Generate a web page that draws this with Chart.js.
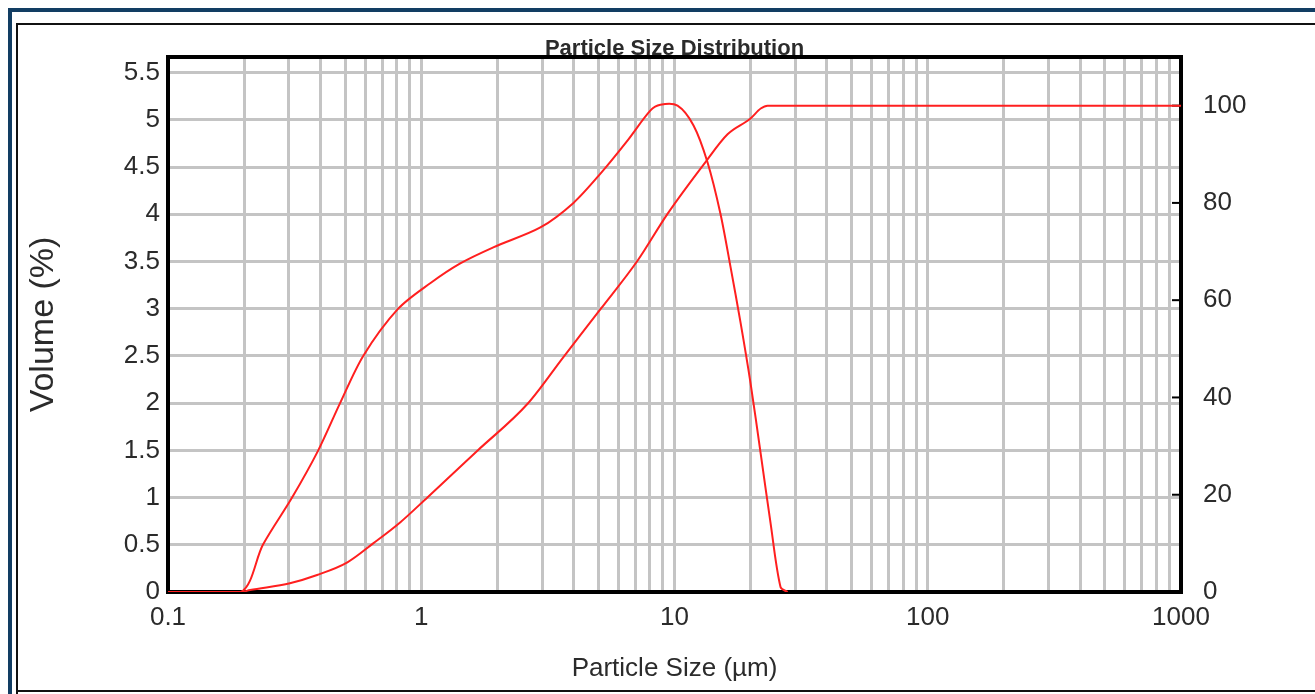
<!DOCTYPE html>
<html>
<head>
<meta charset="utf-8">
<script src="https://cdn.jsdelivr.net/npm/chart.js@4.4.1/dist/chart.umd.min.js"></script>
<style>
  html, body { margin: 0; padding: 0; background: #fff; }
  #wrap { width: 1315px; height: 694px; }
</style>
</head>
<body>
<div id="wrap"><canvas id="psd" width="1315" height="694"></canvas></div>
<script>
// particle size (µm) vs volume density (%) - left axis
const densitySize = [0.1, 0.194, 0.237, 0.309, 0.392, 0.478, 0.59, 0.811, 1.085, 1.426, 1.926, 2.954, 3.99, 5.1, 6.52, 8.04, 8.8, 10.28, 11.89, 13.5, 15.2, 16.65, 18.24, 19.97, 21.88, 23.95, 26.24, 27.97];
const densityVol  = [0, 0, 0.5, 1.0, 1.5, 2.0, 2.5, 3.0, 3.27, 3.48, 3.65, 3.86, 4.12, 4.43, 4.78, 5.1, 5.16, 5.15, 4.94, 4.55, 4.0, 3.44, 2.85, 2.21, 1.47, 0.73, 0.05, 0];

// cumulative undersize (%) - right axis
const cumSize = [0.1, 0.194, 0.211, 0.303, 0.388, 0.511, 0.646, 0.825, 1.06, 1.67, 2.63, 3.63, 5.11, 7.12, 9.37, 13.3, 16.2, 19.9, 21.9, 23.3, 1000];
const cumPct  = [0, 0, 0.4, 1.8, 3.5, 6.1, 10.0, 14.3, 19.5, 29.1, 38.7, 48.2, 58.2, 68.0, 77.7, 88.5, 94.1, 97.3, 99.4, 100, 100];

// axis ticks
const xGridValues = [];
[0.1, 1, 10, 100].forEach(dec => {
    for (let k = 1; k < 10; k++) xGridValues.push(+(dec * k).toPrecision(3));
});
xGridValues.push(1000);
const xLabelValues = [0.1, 1, 10, 100, 1000];
const volTicks = [0, 0.5, 1, 1.5, 2, 2.5, 3, 3.5, 4, 4.5, 5, 5.5];
const pctTicks = [0, 20, 40, 60, 80, 100];

const chartTitle = 'Particle Size Distribution';
const FONT = "'Liberation Sans', Arial, sans-serif";
const TEXT = '#2b2b2b';
const RED = '#ff1f1f';
const GRID = '#c4c4c4';

const frameLines = {
    id: 'frameLines',
    beforeDatasetsDraw: (chart) => {
        const { ctx, chartArea: a } = chart;
        ctx.save();
        // title sits right on the plot frame, centred over the plot area
        ctx.fillStyle = TEXT;
        ctx.font = `bold 22px ${FONT}`;
        ctx.textAlign = 'center';
        ctx.textBaseline = 'alphabetic';
        ctx.fillText(chartTitle, (a.left + a.right) / 2, a.top - 2);

        ctx.strokeStyle = '#000';
        ctx.lineWidth = 4;
        ctx.strokeRect(a.left, a.top, a.right - a.left, a.bottom - a.top);
        // short inward ticks on the right axis
        const y2 = chart.scales.y2;
        ctx.lineWidth = 2;
        pctTicks.forEach(v => {
            const y = y2.getPixelForValue(v);
            ctx.beginPath();
            ctx.moveTo(a.right - 9, y);
            ctx.lineTo(a.right, y);
            ctx.stroke();
        });
        ctx.restore();
    },
    afterDraw: (chart) => {
        const ctx = chart.ctx;
        ctx.save();
        // outer navy border
        ctx.strokeStyle = '#123d63';
        ctx.lineWidth = 4;
        ctx.beginPath();
        ctx.moveTo(1315, 10); ctx.lineTo(10, 10); ctx.lineTo(10, 694);
        ctx.stroke();
        // inner black frame
        ctx.strokeStyle = '#111';
        ctx.lineWidth = 2;
        ctx.beginPath();
        ctx.moveTo(1315, 24); ctx.lineTo(17, 24); ctx.lineTo(17, 694);
        ctx.moveTo(17, 691); ctx.lineTo(1315, 691);
        ctx.stroke();
        ctx.restore();
    }
};

const isLabelled = (v) => xLabelValues.some(l => Math.abs(l - v) < 1e-9);

new Chart(document.getElementById('psd'), {
    type: 'line',
    plugins: [frameLines],
    data: {
        datasets: [
            {
                label: 'Volume',
                data: densitySize.map((x, i) => ({ x, y: densityVol[i] })),
                yAxisID: 'y',
                borderColor: RED,
                borderWidth: 2,
                pointRadius: 0,
                tension: 0.3,
                fill: false
            },
            {
                label: 'Cumulative',
                data: cumSize.map((x, i) => ({ x, y: cumPct[i] })),
                yAxisID: 'y2',
                borderColor: RED,
                borderWidth: 2,
                pointRadius: 0,
                cubicInterpolationMode: 'monotone',
                fill: false
            }
        ]
    },
    options: {
        responsive: false,
        animation: false,
        layout: { padding: { top: 57 } },
        plugins: {
            legend: { display: false },
            tooltip: { enabled: false },
            title: { display: false }
        },
        scales: {
            x: {
                type: 'logarithmic',
                min: 0.1,
                max: 1000,
                afterBuildTicks: (scale) => { scale.ticks = xGridValues.map(v => ({ value: v })); },
                afterFit: (scale) => { scale.height = 102; },
                grid: { color: GRID, lineWidth: 3, drawTicks: false },
                border: { display: false },
                ticks: {
                    autoSkip: false,
                    maxRotation: 0,
                    padding: 10,
                    color: TEXT,
                    font: { family: FONT, size: 26 },
                    callback: (v) => isLabelled(v) ? String(v) : ''
                },
                title: {
                    display: true,
                    text: 'Particle Size (µm)',
                    color: TEXT,
                    font: { family: FONT, size: 26 },
                    padding: { top: 0, bottom: 10 }
                }
            },
            y: {
                position: 'left',
                min: 0,
                max: 5.665,
                afterBuildTicks: (scale) => { scale.ticks = volTicks.map(v => ({ value: v })); },
                afterFit: (scale) => { scale.width = 168; },
                grid: { color: GRID, lineWidth: 3, drawTicks: false },
                border: { display: false },
                ticks: {
                    padding: 8,
                    color: TEXT,
                    font: { family: FONT, size: 26 },
                    callback: (v) => String(v)
                },
                title: {
                    display: true,
                    text: 'Volume (%)',
                    color: TEXT,
                    font: { family: FONT, size: 34 },
                    padding: { top: 23, bottom: 0 }
                }
            },
            y2: {
                position: 'right',
                min: 0,
                max: 110,
                afterBuildTicks: (scale) => { scale.ticks = pctTicks.map(v => ({ value: v })); },
                afterFit: (scale) => { scale.width = 134; },
                grid: { drawOnChartArea: false, drawTicks: false },
                border: { display: false },
                ticks: {
                    padding: 22,
                    color: TEXT,
                    font: { family: FONT, size: 26 },
                    callback: (v) => String(v)
                }
            }
        }
    }
});
</script>
</body>
</html>
